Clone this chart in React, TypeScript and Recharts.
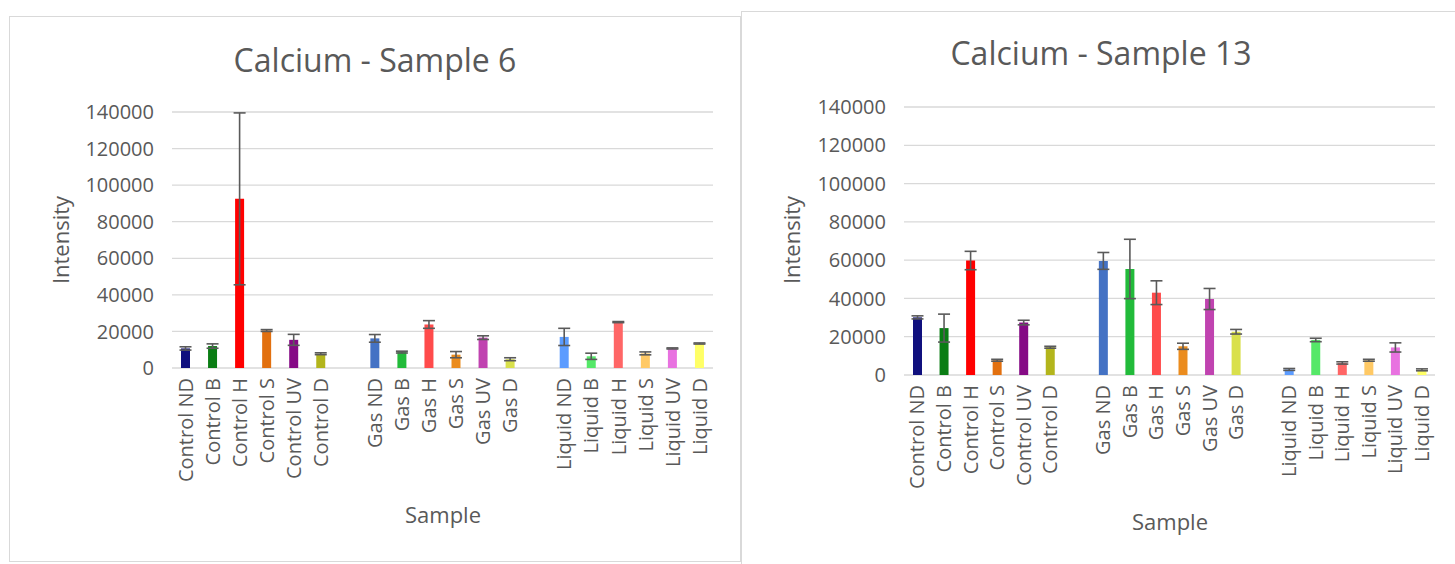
import React from 'react';
import { BarChart, Bar, XAxis, YAxis, CartesianGrid, ErrorBar, Cell } from 'recharts';

const GROUPS = ['Control', 'Gas', 'Liquid'];
const TREATMENTS = ['ND', 'B', 'H', 'S', 'UV', 'D'];

// one entry per group/treatment, in the order above
const SAMPLE_6_VALUES = [
  10700, 12000, 92500, 20500, 15400, 7800,
  16200, 8700, 23800, 7300, 16600, 4800,
  17000, 6400, 25100, 8000, 10700, 13400,
];
const SAMPLE_6_ERRORS = [
  900, 1200, 47000, 500, 3000, 500,
  2100, 500, 2100, 1700, 1000, 800,
  4700, 1700, 300, 800, 300, 300,
];
const SAMPLE_13_VALUES = [
  30100, 24500, 59800, 7700, 27400, 14500,
  59600, 55400, 43000, 15000, 39700, 22600,
  2900, 18300, 6300, 7700, 14400, 2700,
];
const SAMPLE_13_ERRORS = [
  800, 7300, 4800, 500, 1200, 500,
  4400, 15500, 6200, 1600, 5500, 1200,
  500, 900, 600, 500, 2400, 500,
];

const Y_TICKS = [0, 20000, 40000, 60000, 80000, 100000, 120000, 140000];

const BAR_COLORS = [
  '#10107e', '#0a7d14', '#ff0000', '#e2700f', '#850a85', '#b3b51c',
  '#4472c4', '#22bb3a', '#ff4b4b', '#eb8c1e', '#c043b0', '#d9e04c',
  '#5c9cff', '#55e868', '#ff6666', '#ffc965', '#e872e0', '#ffff66',
];

const TEXT = '#595959';
const GRID = '#d9d9d9';
const FONT = '"Open Sans", sans-serif';

interface Row {
  name: string;
  value: number | null;
  err: number | null;
  color: string;
}

// lay the groups out side by side with an empty slot between them
const buildRows = (values: number[], errors: number[]): Row[] => {
  const rows: Row[] = [];
  GROUPS.forEach((group, g) => {
    TREATMENTS.forEach((t, i) => {
      const k = g * TREATMENTS.length + i;
      rows.push({ name: `${group} ${t}`, value: values[k], err: errors[k], color: BAR_COLORS[k] });
    });
    if (g < GROUPS.length - 1) rows.push({ name: `gap-${g}`, value: null, err: null, color: 'none' });
  });
  return rows;
};

const SampleTick = (props: any) => {
  const { x, y, payload } = props;
  if (String(payload.value).startsWith('gap')) return <g />;
  return (
    <text
      x={x}
      y={y}
      dy="0.36em"
      textAnchor="end"
      transform={`rotate(-90, ${x}, ${y})`}
      fill={TEXT}
      fontSize={20}
      fontFamily={FONT}
    >
      {payload.value}
    </text>
  );
};

interface PanelProps {
  title: string;
  values: number[];
  errors: number[];
  left: number;
  top: number;
  width: number;
  height: number;
  rightMargin: number;
  xAxisHeight: number;
  bordered: boolean;
  titleX: number;
  titleY: number;
  sampleY: number;
  sampleX: number;
  intensityX: number;
}

const Panel: React.FC<PanelProps> = (p) => {
  const rows = buildRows(p.values, p.errors);
  const frame: React.CSSProperties = {
    position: 'absolute',
    left: p.left,
    top: p.top,
    width: p.width,
    height: p.height,
    boxSizing: 'border-box',
    borderTop: `1px solid ${GRID}`,
    borderLeft: `1px solid ${GRID}`,
    borderRight: p.bordered ? `1px solid ${GRID}` : 'none',
    borderBottom: p.bordered ? `1px solid ${GRID}` : 'none',
  };
  const label: React.CSSProperties = {
    position: 'absolute',
    color: TEXT,
    fontFamily: FONT,
    whiteSpace: 'nowrap',
    lineHeight: 1,
  };
  return (
    <>
      <div style={frame} />
      <div style={{ position: 'absolute', left: p.left, top: p.top }}>
        <BarChart
          width={p.width}
          height={p.height}
          data={rows}
          margin={{ top: 96, right: p.rightMargin, left: 0, bottom: 0 }}
          barSize={9}
        >
          <CartesianGrid vertical={false} stroke={GRID} strokeWidth={1.3} />
          <XAxis
            dataKey="name"
            interval={0}
            height={p.xAxisHeight}
            axisLine={false}
            tickLine={false}
            tickSize={0}
            tickMargin={10}
            tick={<SampleTick />}
          />
          <YAxis
            width={163}
            domain={[0, 140000]}
            ticks={Y_TICKS}
            interval={0}
            axisLine={false}
            tickLine={false}
            tickSize={0}
            tickMargin={18}
            tick={{ fill: TEXT, fontSize: 20, fontFamily: FONT }}
          />
          <Bar dataKey="value" isAnimationActive={false}>
            {rows.map((r, i) => (
              <Cell key={`bar-${i}`} fill={r.color} />
            ))}
            <ErrorBar dataKey="err" direction="y" width={6} stroke="#5a5a5a" strokeWidth={1.6} />
          </Bar>
        </BarChart>
      </div>
      <div style={{ ...label, left: p.titleX, top: p.titleY, fontSize: 32, transform: 'translate(-50%, -50%)' }}>
        {p.title}
      </div>
      <div style={{ ...label, left: p.intensityX, top: 240, fontSize: 22, transform: 'translate(-50%, -50%) rotate(-90deg)' }}>
        Intensity
      </div>
      <div style={{ ...label, left: p.sampleX, top: p.sampleY, fontSize: 22, transform: 'translate(-50%, -50%)' }}>
        Sample
      </div>
    </>
  );
};

export default function App() {
  return (
    <div
      style={{
        position: 'absolute',
        left: 0,
        top: 0,
        width: 1455,
        height: 564,
        background: '#fff',
        overflow: 'hidden',
      }}
    >
      <Panel
        title="Calcium - Sample 6"
        values={SAMPLE_6_VALUES}
        errors={SAMPLE_6_ERRORS}
        left={9}
        top={16}
        width={732}
        height={546}
        rightMargin={28}
        xAxisHeight={194}
        bordered
        titleX={375}
        titleY={60}
        sampleX={443}
        sampleY={514}
        intensityX={60}
      />
      <Panel
        title="Calcium - Sample 13"
        values={SAMPLE_13_VALUES}
        errors={SAMPLE_13_ERRORS}
        left={741}
        top={11}
        width={714}
        height={553}
        rightMargin={20}
        xAxisHeight={189}
        bordered={false}
        titleX={1101}
        titleY={53}
        sampleX={1170}
        sampleY={521}
        intensityX={791}
      />
    </div>
  );
}
